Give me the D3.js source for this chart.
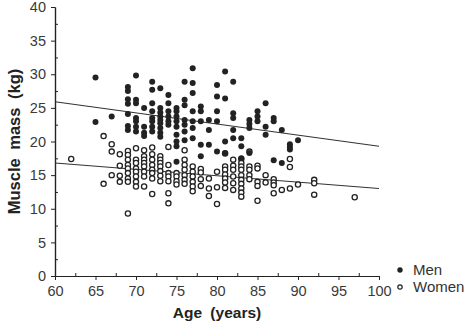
<!DOCTYPE html>
<html><head><meta charset="utf-8">
<script src="https://cdn.jsdelivr.net/npm/d3@7"></script>
<style>body{margin:0;background:#fff}svg{display:block}</style>
</head><body><svg id="c" width="470" height="323"></svg>
<script>
// ---- data ----
const menAges = [65,65,67,
 69,69,69,69,69,69,69,
 70,70,70,70,70,70,70,
 71,71,71,71,
 72,72,72,72,72,72,72,72,
 73,73,73,73,73,73,73,73,73,
 74,74,74,74,74,74,
 75,75,75,75,75,75,75,75,75,
 76,76,76,76,76,76,76,
 77,77,77,77,77,77,77,
 78,78,78,78,78,
 79,79,79,
 80,80,80,80,80,
 81,81,81,81,
 82,82,82,82,82,
 83,83,83,
 84,84,84,84,
 85,85,85,
 86,86,86,
 87,87,87,
 88,88,
 89,89,89,
 90];
const menMass = [29.5,22.9,23.7,
 28.1,27.5,26.3,25.6,24.1,22.3,21.7,
 29.8,26.2,25.7,23.5,23.0,22.2,21.5,
 25.0,22.2,21.3,20.8,
 28.9,27.7,25.7,24.5,23.5,23.0,22.2,21.5,
 27.9,25.0,24.3,23.7,23.2,22.7,22.0,21.3,20.7,
 26.9,25.7,24.5,23.7,23.0,22.5,
 25.0,24.5,23.7,23.0,22.2,21.0,20.0,19.3,17.0,
 28.9,26.2,25.4,23.2,22.5,21.5,20.2,
 30.9,28.7,27.2,24.5,23.0,22.0,20.5,
 25.2,24.5,23.0,19.5,17.8,
 23.2,21.7,19.5,
 28.4,26.7,24.5,23.0,18.5,
 30.4,26.4,20.0,18.3,
 28.9,24.2,23.5,21.7,20.5,
 20.5,19.3,17.5,
 23.2,22.6,22.0,18.3,
 24.5,23.7,23.0,
 25.7,22.2,21.0,
 23.5,23.0,17.2,
 21.7,16.8,
 19.6,19.2,18.8,
 20.2];
const womenAges = [62,66,66,67,67,67,68,68,68,68,
 69,69,69,69,69,69,69,69,69,
 70,70,70,70,70,70,70,70,
 71,71,71,71,71,71,71,71,
 72,72,72,72,72,72,72,72,
 73,73,73,73,73,73,73,
 74,74,74,74,74,74,74,
 75,75,75,75,
 76,76,76,76,76,76,76,
 77,77,77,77,77,77,
 78,78,78,78,
 79,79,79,
 80,80,80,
 81,81,81,81,81,81,81,
 82,82,82,82,82,82,
 83,83,83,83,83,83,83,83,83,83,
 84,84,84,84,84,
 85,85,85,85,85,
 86,86,
 87,87,87,87,
 88,
 89,89,89,
 90,
 92,92,92,
 97];
const womenMass = [17.4,20.8,13.7,19.6,18.5,15.0,18.1,16.4,14.9,14.0,
 18.6,18.0,17.3,16.5,16.0,15.3,14.5,14.0,9.3,
 19.0,17.3,16.8,16.0,15.5,14.8,14.0,13.3,
 18.7,17.8,17.3,16.8,16.3,15.5,14.8,13.3,
 19.1,18.1,17.3,16.5,15.8,15.3,14.5,12.2,
 17.8,17.3,16.8,16.3,15.6,14.9,14.1,
 19.2,16.5,15.3,14.8,14.1,12.3,10.8,
 15.3,14.8,14.1,13.6,
 18.7,17.3,16.5,15.8,15.0,14.3,13.7,
 16.3,15.5,14.8,14.0,13.3,12.6,
 15.9,15.4,14.4,13.4,
 14.5,13.0,11.9,
 15.5,13.2,10.7,
 18.2,16.3,15.8,15.1,14.5,13.9,13.1,
 17.3,16.4,15.8,14.8,13.8,12.8,
 17.4,16.8,16.3,15.8,15.0,14.3,13.7,13.0,12.4,11.8,
 18.5,16.3,15.8,15.0,14.4,
 16.4,16.0,14.0,13.4,11.2,
 15.0,13.9,
 14.4,13.9,13.5,12.3,
 12.8,
 17.4,16.2,13.0,
 13.6,
 14.3,13.8,12.1,
 11.7];
// regression line end points [age, kg]
const menLine = [[60,25.9],[100,19.3]];
const womenLine = [[60,16.8],[100,13.0]];
const xTicks = [60,65,70,75,80,85,90,95,100];
const yTicks = [0,5,10,15,20,25,30,35,40];
const xMinor = [62.5,67.5,72.5,77.5,82.5,87.5,92.5,97.5];
const yMinor = [2.5,7.5,12.5,17.5,22.5,27.5,32.5,37.5];
const legendLabels = ["Men","Women"];

// ---- drawing ----
const svg = d3.select("#c");
const x = d3.scaleLinear().domain([60,100]).range([55,379]);
const y = d3.scaleLinear().domain([0,40]).range([276,7]);
const font = "'Liberation Sans', Arial, Helvetica, sans-serif";
const ink = "#222";

function styleAxis(g){
  g.select(".domain").attr("stroke",ink).attr("stroke-width",1.2);
  g.selectAll(".tick line").attr("stroke",ink).attr("stroke-width",1);
  g.selectAll(".tick text").attr("fill","#3a3a3a").style("font-family",font).style("font-size","14.5px");
}
const gx = svg.append("g").attr("transform","translate(0,276)")
  .call(d3.axisBottom(x).tickValues(xTicks).tickSize(4).tickPadding(6).tickSizeOuter(0));
styleAxis(gx);
const gxm = svg.append("g").attr("transform","translate(0,276)")
  .call(d3.axisBottom(x).tickValues(xMinor).tickSize(-3).tickFormat("").tickSizeOuter(0));
styleAxis(gxm);
const gy = svg.append("g").attr("transform","translate(55,0)")
  .call(d3.axisLeft(y).tickValues(yTicks).tickSize(4).tickPadding(5).tickSizeOuter(0));
styleAxis(gy);
const gym = svg.append("g").attr("transform","translate(55,0)")
  .call(d3.axisLeft(y).tickValues(yMinor).tickSize(-3).tickFormat("").tickSizeOuter(0));
styleAxis(gym);

// axis titles
svg.append("text").attr("x",(x(60)+x(100))/2).attr("y",318).attr("text-anchor","middle")
  .style("font-family",font).style("font-size","15.5px").style("font-weight","bold").attr("fill",ink)
  .style("word-spacing","4px").text("Age (years)");
svg.append("text").attr("transform",`translate(20,${(y(0)+y(40))/2}) rotate(-90)`).attr("text-anchor","middle")
  .style("font-family",font).style("font-size","16.5px").style("font-weight","bold").attr("fill",ink)
  .style("word-spacing","4px").text("Muscle mass (kg)");

// regression lines
const line = d3.line().x(d=>x(d[0])).y(d=>y(d[1]));
[menLine,womenLine].forEach(l=>svg.append("path").attr("d",line(l)).attr("fill","none").attr("stroke","#333").attr("stroke-width",1.1));

// points
const men = menAges.map((a,i)=>[a,menMass[i]]);
const women = womenAges.map((a,i)=>[a,womenMass[i]]);
svg.append("g").selectAll("circle").data(women).join("circle")
  .attr("cx",d=>x(d[0])).attr("cy",d=>y(d[1])).attr("r",2.6)
  .attr("fill","#fff").attr("stroke",ink).attr("stroke-width",1.3);
svg.append("g").selectAll("circle").data(men).join("circle")
  .attr("cx",d=>x(d[0])).attr("cy",d=>y(d[1])).attr("r",3).attr("fill",ink);

// legend
const lg = svg.append("g");
legendLabels.forEach((t,i)=>{
  const yy = 270 + i*17;
  if(i===0) lg.append("circle").attr("cx",400).attr("cy",yy).attr("r",2.7).attr("fill",ink);
  else lg.append("circle").attr("cx",400).attr("cy",yy).attr("r",2.2).attr("fill","#fff").attr("stroke",ink).attr("stroke-width",1.2);
  lg.append("text").attr("x",413).attr("y",yy).attr("dy","0.35em")
    .style("font-family",font).style("font-size","15px").attr("fill","#333").text(t);
});
</script></body></html>
